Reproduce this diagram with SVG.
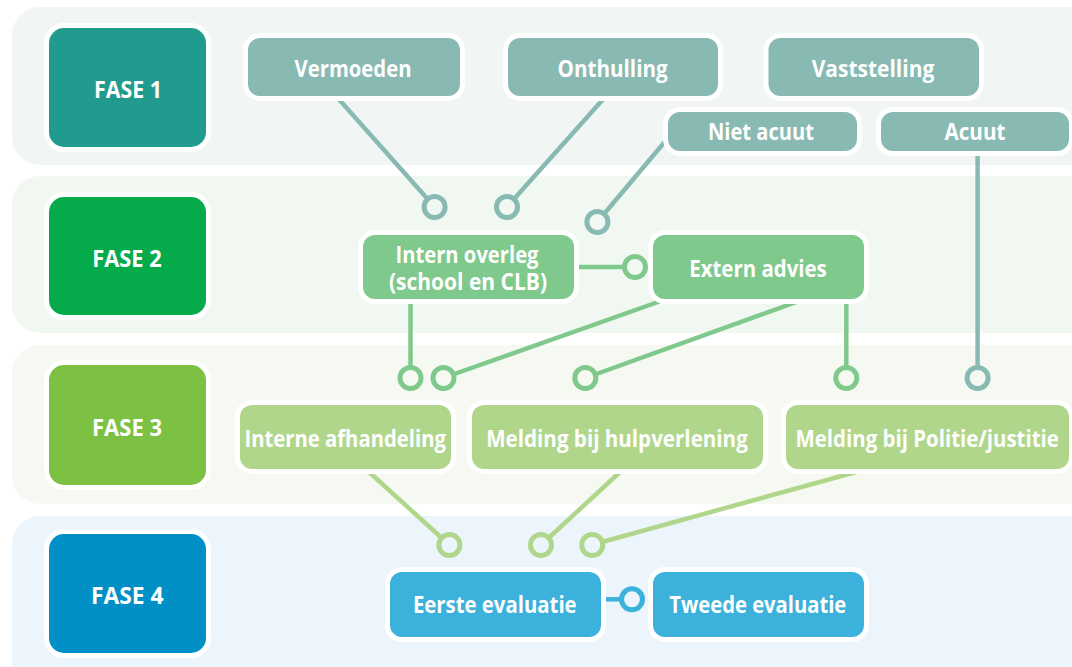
<svg xmlns="http://www.w3.org/2000/svg" width="1072" height="667" viewBox="0 0 1072 667">
<style>
.band{stroke:none}
.fase{stroke:#fff;stroke-width:10;paint-order:stroke}
.node{stroke:#fff;stroke-width:10;paint-order:stroke}
.t{font-family:"Open Sans","Liberation Sans",sans-serif;font-weight:700;font-size:22.5px;fill:#fff;text-anchor:middle}
.f{font-size:23px}
.p1{fill:#88bab3}.p2{fill:#80c98c}.p3{fill:#b0d68c}.p4{fill:#3bb1db}
.l{fill:none;stroke-width:4.5}
.s1{stroke:#88bab3}.s2{stroke:#80c98c}.s3{stroke:#b0d68c}.s4{stroke:#3bb1db}
.c{stroke-width:5}
</style>
<rect width="1072" height="667" fill="#fff"/>
<g id="bands">
<rect class="band" x="12" y="7" width="1100" height="158" rx="28" fill="#f1f6f4"/>
<rect class="band" x="12" y="176" width="1100" height="157" rx="28" fill="#f1f8f2"/>
<rect class="band" x="12" y="345" width="1100" height="159" rx="28" fill="#f6f9f1"/>
<rect class="band" x="12" y="516" width="1100" height="180" rx="28" fill="#ecf5fb"/>
</g>
<g id="connectors">
<line class="l s1" x1="336" y1="96" x2="427.6" y2="199.1"/>
<line class="l s1" x1="606" y1="96" x2="514" y2="199.1"/>
<line class="l s1" x1="668" y1="138" x2="604" y2="214"/>
<line class="l s1" x1="977.6" y1="151" x2="977.6" y2="368"/>
<line class="l s2" x1="574" y1="267" x2="625" y2="267"/>
<line class="l s2" x1="410.5" y1="299" x2="410.5" y2="368"/>
<line class="l s2" x1="666.5" y1="299" x2="453" y2="374.5"/>
<line class="l s2" x1="804.8" y1="299" x2="595" y2="374.5"/>
<line class="l s2" x1="846.3" y1="299" x2="846.3" y2="368"/>
<line class="l s3" x1="365.7" y1="469" x2="441.8" y2="538"/>
<line class="l s3" x1="623.3" y1="469" x2="548.6" y2="538"/>
<line class="l s3" x1="867" y1="469" x2="602" y2="542"/>
<line class="l s4" x1="601" y1="599.3" x2="622" y2="599.3"/>
<circle class="c s1" cx="434.6" cy="207" r="10.5" fill="#f1f8f2"/>
<circle class="c s1" cx="507" cy="207" r="10.5" fill="#f1f8f2"/>
<circle class="c s1" cx="597.4" cy="222" r="10.5" fill="#f1f8f2"/>
<circle class="c s1" cx="977.6" cy="378" r="10.5" fill="#f6f9f1"/>
<circle class="c s2" cx="635" cy="267" r="10.5" fill="#f1f8f2"/>
<circle class="c s2" cx="410.5" cy="378" r="10.5" fill="#f6f9f1"/>
<circle class="c s2" cx="443.5" cy="378" r="10.5" fill="#f6f9f1"/>
<circle class="c s2" cx="585.3" cy="378" r="10.5" fill="#f6f9f1"/>
<circle class="c s2" cx="846.3" cy="378" r="10.5" fill="#f6f9f1"/>
<circle class="c s3" cx="449.4" cy="545" r="10.5" fill="#ecf5fb"/>
<circle class="c s3" cx="541" cy="545" r="10.5" fill="#ecf5fb"/>
<circle class="c s3" cx="592.2" cy="545" r="10.5" fill="#ecf5fb"/>
<circle class="c s4" cx="632" cy="599.3" r="10.5" fill="#ecf5fb"/>
</g>
<g id="fase1"><rect class="fase" x="49" y="28" width="157" height="119" rx="15" fill="#229b8f"/><text class="t f" x="128" y="98" textLength="68" lengthAdjust="spacingAndGlyphs">FASE 1</text></g>
<g id="fase2"><rect class="fase" x="49" y="197" width="157" height="118" rx="15" fill="#05ab4a"/><text class="t f" x="127" y="266.5" textLength="69.5" lengthAdjust="spacingAndGlyphs">FASE 2</text></g>
<g id="fase3"><rect class="fase" x="49" y="365" width="157" height="120" rx="15" fill="#7cc142"/><text class="t f" x="127" y="435.5" textLength="70" lengthAdjust="spacingAndGlyphs">FASE 3</text></g>
<g id="fase4"><rect class="fase" x="49" y="534" width="157" height="119" rx="15" fill="#0090c5"/><text class="t f" x="127.3" y="604" textLength="72.5" lengthAdjust="spacingAndGlyphs">FASE 4</text></g>
<g id="vermoeden"><rect class="node p1" x="248" y="38" width="212" height="58" rx="12"/><text class="t" x="353" y="77" textLength="117" lengthAdjust="spacingAndGlyphs">Vermoeden</text></g>
<g id="onthulling"><rect class="node p1" x="508" y="38" width="210" height="58" rx="12"/><text class="t" x="612.6" y="77" textLength="110" lengthAdjust="spacingAndGlyphs">Onthulling</text></g>
<g id="vaststelling"><rect class="node p1" x="768.5" y="38" width="210.5" height="58" rx="12"/><text class="t" x="873" y="77" textLength="122.7" lengthAdjust="spacingAndGlyphs">Vaststelling</text></g>
<g id="niet-acuut"><rect class="node p1" x="668" y="112" width="189" height="39" rx="12"/><text class="t" x="761" y="140" textLength="106" lengthAdjust="spacingAndGlyphs">Niet acuut</text></g>
<g id="acuut"><rect class="node p1" x="881" y="112" width="188" height="39" rx="12"/><text class="t" x="975" y="140" textLength="61" lengthAdjust="spacingAndGlyphs">Acuut</text></g>
<g id="intern-overleg"><rect class="node p2" x="363" y="235" width="211" height="64" rx="12"/><text class="t" x="467" y="263.3" textLength="143" lengthAdjust="spacingAndGlyphs">Intern overleg</text><text class="t" x="468" y="290" textLength="158" lengthAdjust="spacingAndGlyphs">(school en CLB)</text></g>
<g id="extern-advies"><rect class="node p2" x="653" y="235" width="211" height="64" rx="12"/><text class="t" x="758" y="276.7" textLength="137.6" lengthAdjust="spacingAndGlyphs">Extern advies</text></g>
<g id="interne-afhandeling"><rect class="node p3" x="240" y="405" width="211" height="64" rx="12"/><text class="t" x="345.2" y="446.7" textLength="201.5" lengthAdjust="spacingAndGlyphs">Interne afhandeling</text></g>
<g id="melding-hulpverlening"><rect class="node p3" x="472" y="405" width="291" height="64" rx="12"/><text class="t" x="617" y="446.7" textLength="261.6" lengthAdjust="spacingAndGlyphs">Melding bij hulpverlening</text></g>
<g id="melding-politie"><rect class="node p3" x="786" y="405" width="283" height="64" rx="12"/><text class="t" x="927.2" y="446.7" textLength="263.4" lengthAdjust="spacingAndGlyphs">Melding bij Politie/justitie</text></g>
<g id="eerste-evaluatie"><rect class="node p4" x="390" y="572" width="211" height="65" rx="12"/><text class="t" x="494.8" y="613.3" textLength="163.7" lengthAdjust="spacingAndGlyphs">Eerste evaluatie</text></g>
<g id="tweede-evaluatie"><rect class="node p4" x="653" y="572" width="211" height="65" rx="12"/><text class="t" x="757.8" y="613.3" textLength="177" lengthAdjust="spacingAndGlyphs">Tweede evaluatie</text></g>
</svg>
